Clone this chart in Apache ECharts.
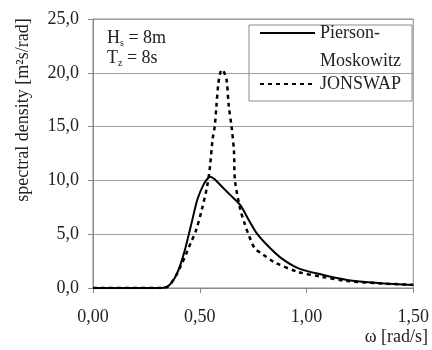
<!DOCTYPE html>
<html>
<head>
<meta charset="utf-8">
<script src="https://cdn.jsdelivr.net/npm/echarts@6/dist/echarts.min.js"></script>
<style>
  html, body { margin: 0; padding: 0; background: #fff; }
  #chart { width: 432px; height: 350px; }
</style>
</head>
<body>
<div id="chart"></div>
<script>
// omega [rad/s] and spectral density [m2s/rad]
const pmOmega = [0, 0.30, 0.33, 0.35, 0.37, 0.39, 0.41, 0.43, 0.46, 0.49, 0.52, 0.54, 0.55, 0.57, 0.60, 0.62, 0.64, 0.69, 0.73, 0.77, 0.82, 0.88, 0.96, 1.07, 1.19, 1.35, 1.50];
const pmDensity = [0, 0, 0.02, 0.15, 0.55, 1.2, 2.2, 3.5, 5.9, 8.3, 9.7, 10.25, 10.35, 10.1, 9.5, 9.1, 8.7, 7.7, 6.3, 5.0, 3.9, 2.8, 1.85, 1.25, 0.75, 0.45, 0.28];

const jsOmega = [0, 0.30, 0.34, 0.36, 0.39, 0.41, 0.435, 0.46, 0.48, 0.51, 0.535, 0.548, 0.56, 0.57, 0.578, 0.587, 0.596, 0.605, 0.615, 0.626, 0.636, 0.649, 0.66, 0.665, 0.69, 0.71, 0.73, 0.757, 0.79, 0.85, 0.96, 1.07, 1.19, 1.35, 1.50];
const jsDensity = [0, 0, 0.05, 0.3, 1.2, 2.0, 3.1, 4.3, 5.2, 7.3, 9.5, 11.3, 13.8, 15.0, 16.9, 19.0, 20.0, 20.3, 20.0, 19.3, 16.9, 15.0, 12.8, 10.0, 7.3, 6.0, 4.9, 3.7, 3.2, 2.4, 1.5, 1.05, 0.65, 0.42, 0.3];

const xTickLabels = ['0,00', '0,50', '1,00', '1,50'];
const yTickLabels = ['0,0', '5,0', '10,0', '15,0', '20,0', '25,0'];

const FONT = "'Liberation Serif', 'Times New Roman', serif";
const TXT = '#222';

const pair = (xs, ys) => xs.map((x, i) => [x, ys[i]]);

const chart = echarts.init(document.getElementById('chart'));
chart.setOption({
  animation: false,
  color: ['#000', '#000'],
  title: {
    left: 102,
    top: 23,
    text: '{n|H}{s|s}{n| = 8m}\n{n|T}{s|z}{n| = 8s}',
    textStyle: {
      fontWeight: 'normal',
      rich: {
        n: { fontFamily: FONT, fontSize: 18, fontWeight: 'normal', color: TXT, lineHeight: 20 },
        s: { fontFamily: FONT, fontSize: 10, fontWeight: 'normal', color: TXT, verticalAlign: 'bottom', lineHeight: 14 }
      }
    }
  },
  legend: {
    orient: 'vertical',
    left: 249,
    top: 25,
    itemWidth: 55,
    itemHeight: 14,
    itemGap: 5,
    padding: [-1, 11, 8, 10],
    borderColor: '#8a8a8a',
    borderWidth: 1,
    itemStyle: { opacity: 0 },
    textStyle: {
      rich: {
        a: { fontFamily: FONT, fontSize: 18, color: TXT, lineHeight: 25 },
        b: { fontFamily: FONT, fontSize: 18, color: TXT, lineHeight: 0, height: 31, verticalAlign: 'top' }
      }
    },
    formatter: name => name === 'Pierson-Moskowitz' ? '{a|Pierson-}\n{b|Moskowitz}' : '{a|' + name + '}',
    data: ['Pierson-Moskowitz', 'JONSWAP']
  },
  grid: {
    left: 93,
    right: 16,
    top: 19,
    bottom: 62,
    show: true,
    borderColor: '#8a8a8a',
    borderWidth: 1
  },
  xAxis: {
    type: 'value',
    min: 0,
    max: 1.5,
    interval: 0.5,
    axisLine: { lineStyle: { color: '#8a8a8a' } },
    axisTick: { show: true, length: 5, lineStyle: { color: '#8a8a8a' } },
    splitLine: { show: false },
    axisLabel: {
      margin: 20,
      fontFamily: FONT,
      fontSize: 18,
      color: TXT,
      formatter: v => xTickLabels[Math.round(v / 0.5)]
    }
  },
  yAxis: {
    type: 'value',
    min: 0,
    max: 25,
    interval: 5,
    axisLine: { show: true, lineStyle: { color: '#8a8a8a' } },
    axisTick: { show: true, length: 5, lineStyle: { color: '#8a8a8a' } },
    splitLine: { lineStyle: { color: '#a0a0a0' } },
    axisLabel: {
      margin: 14,
      fontFamily: FONT,
      fontSize: 18,
      color: TXT,
      formatter: v => yTickLabels[Math.round(v / 5)]
    }
  },
  graphic: [
    {
      type: 'text',
      x: 23,
      y: 110,
      rotation: Math.PI / 2,
      style: {
        text: 'spectral density [m²s/rad]',
        font: '18px ' + FONT,
        fill: TXT,
        align: 'center',
        verticalAlign: 'middle'
      }
    },
    {
      type: 'text',
      right: 4,
      top: 328,
      style: {
        text: 'ω [rad/s]',
        font: '18px ' + FONT,
        fill: TXT
      }
    }
  ],
  series: [
    {
      name: 'Pierson-Moskowitz',
      type: 'line',
      data: pair(pmOmega, pmDensity),
      symbol: 'none',
      smooth: 0.3,
      lineStyle: { color: '#000', width: 2 }
    },
    {
      name: 'JONSWAP',
      type: 'line',
      data: pair(jsOmega, jsDensity),
      symbol: 'none',
      smooth: 0.3,
      lineStyle: { color: '#000', width: 2.5, type: [4, 4] }
    }
  ]
});
</script>
</body>
</html>
